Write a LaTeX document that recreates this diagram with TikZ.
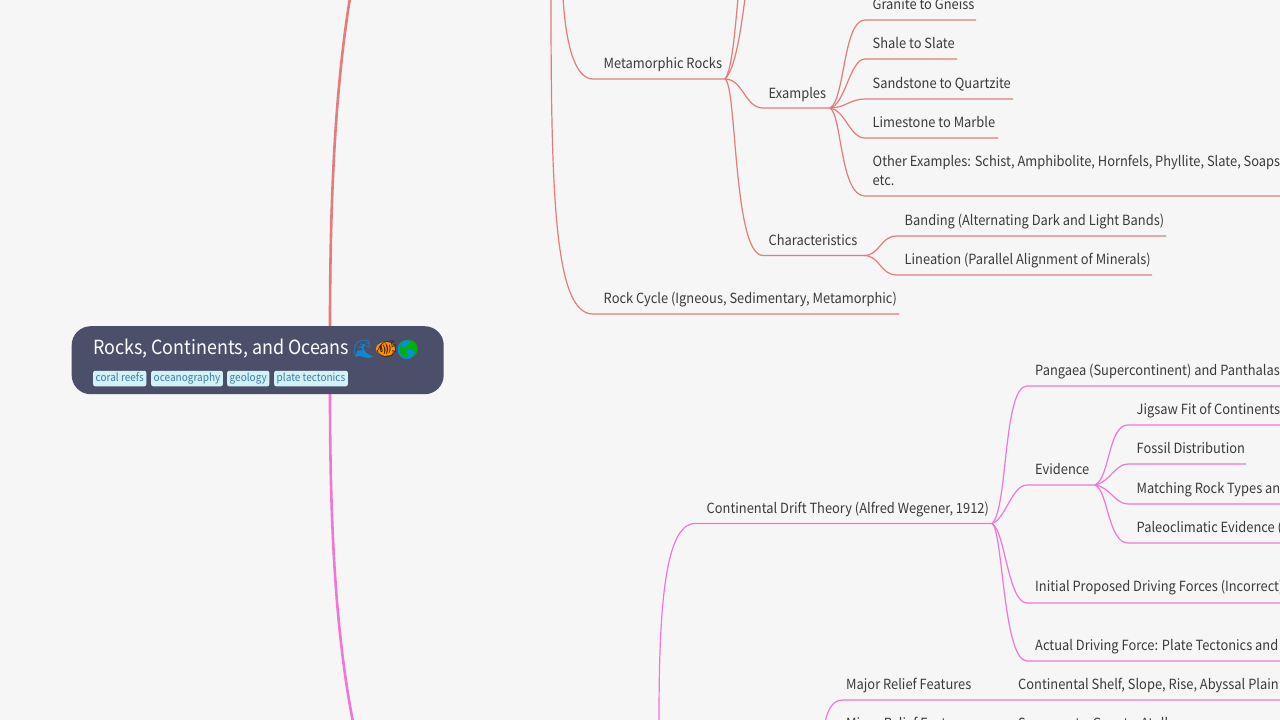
\documentclass[tikz,border=0pt]{standalone}
\usepackage{fontspec}
\setmainfont{Noto Sans CJK SC}[FakeStretch=0.92]
\newfontfamily\emojifont{Noto Emoji}
\definecolor{bgcol}{HTML}{F6F6F6}
\definecolor{rootcol}{HTML}{4C4F69}
\definecolor{redcol}{HTML}{E57B7B}
\definecolor{pinkcol}{HTML}{F078D4}
\definecolor{tagcol}{HTML}{D4F1F8}
\definecolor{tagtext}{HTML}{3B7F9B}
\definecolor{textcol}{HTML}{3A3A3A}
\tikzset{
    topic/.style={anchor=base west, inner sep=0pt, text=textcol, font=\fontsize{14}{18}\selectfont},
    tagbox/.style={anchor=base west, fill=tagcol, rounded corners=2pt, inner xsep=2.5pt, inner ysep=0pt, text height=10.7pt, text depth=4.8pt, text=tagtext, font=\fontsize{10.9}{12}\selectfont},
    emoji/.style={anchor=base west, inner sep=0pt, font=\emojifont\fontsize{18}{22}\selectfont},
    branch/.style={line width=1.2pt},
    trunk/.style={line width=2.6pt}
}
\begin{document}
\begin{tikzpicture}[x=1pt, y=-1pt]
    \useasboundingbox (0,0) rectangle (1280,720);
    \fill[bgcol] (0,0) rectangle (1280,720);
    \clip (0,0) rectangle (1280,720);

    % trunks
    \coordinate (rootup) at (330,326);
    \coordinate (rootdown) at (330,394);
    \coordinate (redtop) at (350,-2);
    \coordinate (pinkend) at (353,722);
    \draw[trunk, redcol] (rootup) .. controls (330,200) and (335,90) .. (redtop);
    \draw[trunk, pinkcol] (rootdown) .. controls (330,520) and (335,630) .. (pinkend);

    % root
    \node[anchor=north west, fill=rootcol, rounded corners=19pt, minimum width=372pt, minimum height=68pt, inner sep=0pt] (root) at (71.5,326) {};
    \node[anchor=base west, inner sep=0pt, text=white, font=\fontsize{19.45}{22}\selectfont] (title) at (93,354) {Rocks, Continents, and Oceans};
    \fill[orange!85!yellow] (385.5,349) ellipse (9.5pt and 7pt);
    \fill[blue!45!cyan] (407,349.5) circle (9.5pt);
    \node[emoji, text=cyan!70!blue] (wave) at (352,355) {🌊};
    \node[emoji, text=black!75!orange] (fish) at (375,355) {🐠};
    \node[emoji, text=green!70!black] (globe) at (397,355) {🌎};
    \node[tagbox] (tagreefs) at (93,381.5) {coral reefs};
    \node[tagbox] (tagocean) at (151,381.5) {oceanography};
    \node[tagbox] (taggeo) at (227,381.5) {geology};
    \node[tagbox] (tagplate) at (274,381.5) {plate tectonics};

    % red topics
    \node[topic] (meta) at (603.5,68.5) {Metamorphic Rocks};
    \node[topic] (examples) at (768.5,98) {Examples};
    \node[topic] (chars) at (768.5,245) {Characteristics};
    \node[topic] (cycle) at (603.5,303.5) {Rock Cycle (Igneous, Sedimentary, Metamorphic)};
    \node[topic] (granite) at (872.5,9.5) {Granite to Gneiss};
    \node[topic] (shale) at (872.5,48.5) {Shale to Slate};
    \node[topic] (sandstone) at (872.5,88) {Sandstone to Quartzite};
    \node[topic] (limestone) at (872.5,127) {Limestone to Marble};
    \node[topic] (other) at (872.5,166.5) {Other Examples: Schist, Amphibolite, Hornfels, Phyllite, Slate, Soapstone,};
    \node[topic] (otheretc) at (872.5,185) {etc.};
    \node[topic] (banding) at (904.5,225) {Banding (Alternating Dark and Light Bands)};
    \node[topic] (lineation) at (904.5,264) {Lineation (Parallel Alignment of Minerals)};

    % red branches
    \begin{scope}[branch, redcol]
        \coordinate (metafork) at (725,79);
        \coordinate (exfork) at (830,108);
        \coordinate (charfork) at (864,255.5);
        \draw (551,-2) .. controls (551,200) and (555,314) .. (593,314) -- (899,314);
        \draw (563,-2) .. controls (566,45) and (575,79) .. (593,79) -- (metafork);
        \draw (metafork) .. controls (732,70) and (735,30) .. (738,-2);
        \draw (metafork) .. controls (735,70) and (741,30) .. (745,-2);
        \draw (metafork) .. controls (743,79) and (745,108) .. (763,108) -- (exfork);
        \draw (metafork) .. controls (737,85) and (733,255.5) .. (763,255.5) -- (charfork);
        \draw (exfork) .. controls (845,100) and (843,20) .. (865,20) -- (976,20);
        \draw (exfork) .. controls (845,105) and (850,59) .. (865,59) -- (957,59);
        \draw (exfork) .. controls (845,108) and (850,99) .. (865,99) -- (1013,99);
        \draw (exfork) .. controls (845,110) and (850,138) .. (865,138) -- (998,138);
        \draw (exfork) .. controls (842,115) and (840,196) .. (865,196) -- (1280,196);
        \draw (charfork) .. controls (880,255.5) and (880,236) .. (897,236) -- (1166,236);
        \draw (charfork) .. controls (880,255.5) and (880,275) .. (897,275) -- (1152,275);
    \end{scope}

    % pink topics
    \node[topic] (drift) at (706.5,513) {Continental Drift Theory (Alfred Wegener, 1912)};
    \node[topic] (pangaea) at (1035,375) {Pangaea (Supercontinent) and Panthalassa};
    \node[topic] (evidence) at (1035,474) {Evidence};
    \node[topic] (initial) at (1035,591.5) {Initial Proposed Driving Forces (Incorrect)};
    \node[topic] (actual) at (1035,650) {Actual Driving Force: Plate Tectonics and};
    \node[topic] (jigsaw) at (1136.5,414.5) {Jigsaw Fit of Continents};
    \node[topic] (fossil) at (1136.5,453.5) {Fossil Distribution};
    \node[topic] (matching) at (1136.5,493) {Matching Rock Types and};
    \node[topic] (paleo) at (1136.5,532) {Paleoclimatic Evidence (};
    \node[topic] (major) at (846,689) {Major Relief Features};
    \node[topic] (shelf) at (1018,689) {Continental Shelf, Slope, Rise, Abyssal Plain};
    \node[topic] (minor) at (846,728) {Minor Relief Features};
    \node[topic] (seamounts) at (1018,728) {Seamounts, Guyots, Atolls};

    % pink branches
    \begin{scope}[branch, pinkcol]
        \coordinate (driftfork) at (992,523.5);
        \coordinate (evfork) at (1095,485);
        \draw (659,722) .. controls (659,620) and (663,523.5) .. (695,523.5) -- (driftfork);
        \draw (driftfork) .. controls (1008,510) and (1003,386) .. (1027,386) -- (1280,386);
        \draw (driftfork) .. controls (1005,520) and (1012,485) .. (1027,485) -- (evfork);
        \draw (driftfork) .. controls (1005,530) and (1008,603) .. (1027,603) -- (1280,603);
        \draw (driftfork) .. controls (1003,530) and (1003,661) .. (1027,661) -- (1280,661);
        \draw (evfork) .. controls (1110,478) and (1108,425) .. (1128,425) -- (1280,425);
        \draw (evfork) .. controls (1110,482) and (1115,464) .. (1128,464) -- (1246,464);
        \draw (evfork) .. controls (1110,487) and (1115,504) .. (1128,504) -- (1280,504);
        \draw (evfork) .. controls (1108,490) and (1108,543) .. (1128,543) -- (1280,543);
        \draw (825,722) .. controls (828,710) and (832,700) .. (843,700) -- (1280,700);
    \end{scope}
\end{tikzpicture}
\end{document}
